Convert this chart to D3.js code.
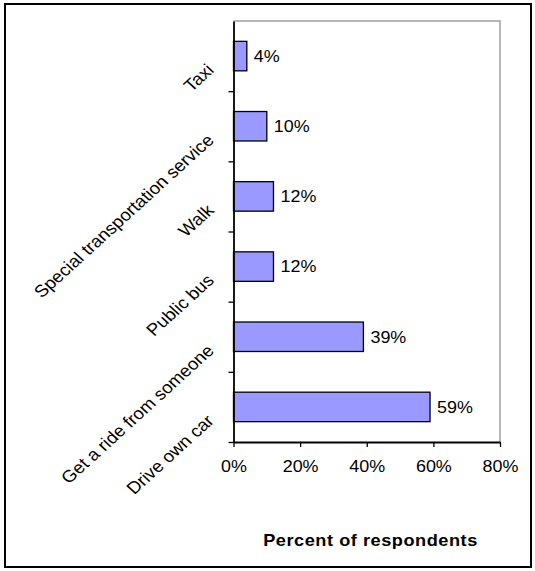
<!DOCTYPE html>
<html>
<head>
<meta charset="utf-8">
<script src="https://cdn.jsdelivr.net/npm/d3@7"></script>
<style>
  body { margin: 0; background: #fff; }
  svg text { font-family: "Liberation Sans", Arial, sans-serif; fill: #000; }
</style>
</head>
<body>
<div id="chart"></div>
<script>
// survey answers, top to bottom as drawn
var categories = ["Taxi", "Special transportation service", "Walk", "Public bus", "Get a ride from someone", "Drive own car"];
var values = [4, 10, 12, 12, 39, 59];
var xTicks = [0, 20, 40, 60, 80];
var xTitle = "Percent of respondents";

var W = 535, H = 571;
// note: "top" is taken by window.top, so plot edges get their own names
var plotL = 233.5, plotR = 500, plotT = 21, plotB = 442;
// the original picture is a bit stretched sideways, text too
var stretch = "scale(1.1,1)";

var svg = d3.select("#chart")
  .append("svg")
  .attr("width", W)
  .attr("height", H);

// outer frame
svg.append("rect")
  .attr("x", 5).attr("y", 4)
  .attr("width", 526).attr("height", 563)
  .attr("fill", "none")
  .attr("stroke", "#000")
  .attr("stroke-width", 2);

var x = d3.scaleLinear().domain([0, 80]).range([plotL, plotR]);
var y = d3.scaleBand().domain(categories).range([plotT, plotB])
  .paddingInner(0.58).paddingOuter(0.29);
// index scale just for the tick marks between categories
var yIdx = d3.scaleLinear().domain([0, categories.length]).range([plotT, plotB]);

// plot area border (top + right, grey)
svg.append("path")
  .attr("d", "M" + plotL + "," + plotT + "H" + plotR + "V" + plotB)
  .attr("fill", "none")
  .attr("stroke", "#a0a0a0")
  .attr("stroke-width", 1.5);

svg.selectAll("rect.bar")
  .data(values)
  .enter().append("rect")
  .attr("class", "bar")
  .attr("x", x(0))
  .attr("y", function(d, i) { return y(categories[i]); })
  .attr("width", function(d) { return x(d) - x(0); })
  .attr("height", y.bandwidth())
  .attr("fill", "#9999ff")
  .attr("stroke", "#000")
  .attr("stroke-width", 1.3);

svg.selectAll("text.val")
  .data(values)
  .enter().append("text")
  .attr("class", "val")
  .attr("transform", function(d, i) {
    return "translate(" + (x(d) + 7) + "," + (y(categories[i]) + y.bandwidth() / 2) + ") " + stretch;
  })
  .attr("dy", "0.36em")
  .style("font-size", "16.3px")
  .text(function(d) { return d + "%"; });

// x axis
var xAxis = svg.append("g")
  .attr("transform", "translate(0," + plotB + ")")
  .call(d3.axisBottom(x).tickValues(xTicks).tickFormat(function(d) { return d + "%"; }).tickSize(5).tickSizeOuter(0));
xAxis.select(".domain").attr("stroke", "#000").attr("stroke-width", 1.8);
xAxis.selectAll(".tick line").attr("stroke", "#000").attr("stroke-width", 1.3);
xAxis.selectAll(".tick text")
  .attr("y", 18)
  .attr("transform", stretch)
  .style("font-size", "16.3px")
  .style("font-family", "'Liberation Sans', Arial, sans-serif")
  .attr("fill", "#000");

// y axis: ticks between the category bands
var yAxis = svg.append("g")
  .attr("transform", "translate(" + plotL + ",0)")
  .call(d3.axisLeft(yIdx).tickValues(d3.range(1, categories.length + 1)).tickFormat("").tickSize(5).tickSizeOuter(0));
yAxis.select(".domain").attr("stroke", "#000").attr("stroke-width", 1.8);
yAxis.selectAll(".tick line").attr("stroke", "#000").attr("stroke-width", 1.3);

// rotated category labels
svg.selectAll("text.cat")
  .data(categories)
  .enter().append("text")
  .attr("class", "cat")
  .attr("text-anchor", "end")
  .attr("transform", function(d) {
    return "translate(215," + (y(d) + y.bandwidth() / 2 + 15) + ") " + stretch + " rotate(-45)";
  })
  .style("font-size", "17px")
  .text(function(d) { return d; });

svg.append("text")
  .attr("transform", "translate(370.5,546) " + stretch)
  .attr("text-anchor", "middle")
  .style("font-size", "16.5px")
  .style("font-weight", "bold")
  .style("letter-spacing", "0.5px")
  .text(xTitle);
</script>
</body>
</html>
